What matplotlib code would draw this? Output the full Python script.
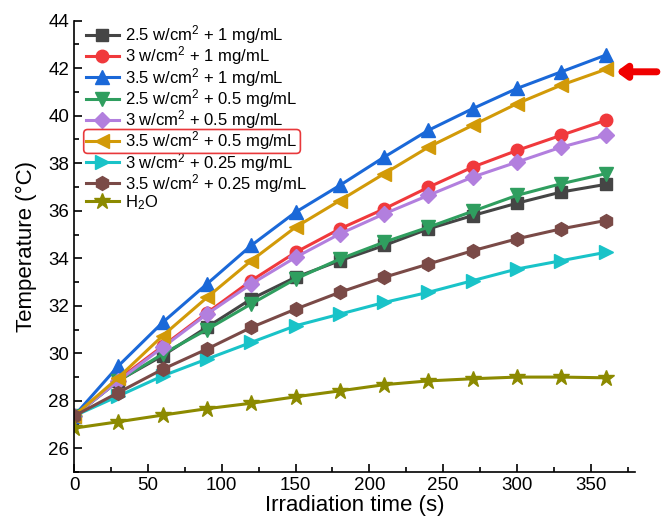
import numpy as np
import matplotlib
matplotlib.use('Agg')
import matplotlib.pyplot as plt
from matplotlib.patches import FancyBboxPatch

# ── Data ─────────────────────────────────────────────────────
time_s = [0, 30, 60, 90, 120, 150, 180, 210, 240, 270, 300, 330, 360]

t_25_1 = [27.36, 28.85, 29.9, 31.1, 32.29, 33.2, 33.9, 34.54, 35.24, 35.8, 36.32, 36.79, 37.11]
t_3_1 = [27.36, 28.9, 30.3, 31.7, 33.06, 34.25, 35.24, 36.08, 36.99, 37.84, 38.54, 39.18, 39.81]
t_35_1 = [27.36, 29.47, 31.3, 32.92, 34.54, 35.94, 37.07, 38.26, 39.39, 40.3, 41.15, 41.85, 42.55]
t_25_05 = [27.36, 28.84, 29.97, 31.0, 32.08, 33.13, 33.97, 34.68, 35.31, 35.98, 36.65, 37.14, 37.56]
t_3_05 = [27.36, 28.84, 30.25, 31.65, 32.92, 34.04, 35.03, 35.87, 36.65, 37.42, 38.05, 38.68, 39.18]
t_35_05 = [27.36, 28.98, 30.74, 32.35, 33.9, 35.31, 36.43, 37.56, 38.68, 39.6, 40.51, 41.29, 41.95]
t_3_025 = [27.36, 28.2, 29.05, 29.76, 30.46, 31.16, 31.65, 32.14, 32.57, 33.06, 33.55, 33.9, 34.25]
t_35_025 = [27.36, 28.35, 29.33, 30.18, 31.09, 31.86, 32.57, 33.2, 33.76, 34.32, 34.82, 35.24, 35.59]
t_h2o = [26.85, 27.12, 27.4, 27.67, 27.9, 28.17, 28.42, 28.68, 28.84, 28.93, 29.0, 29.0, 28.97]

labels = [r'2.5 w/cm$^2$ + 1 mg/mL', r'3 w/cm$^2$ + 1 mg/mL', r'3.5 w/cm$^2$ + 1 mg/mL',
          r'2.5 w/cm$^2$ + 0.5 mg/mL', r'3 w/cm$^2$ + 0.5 mg/mL', r'3.5 w/cm$^2$ + 0.5 mg/mL',
          r'3 w/cm$^2$ + 0.25 mg/mL', r'3.5 w/cm$^2$ + 0.25 mg/mL', r'H$_2$O']
series = [t_25_1, t_3_1, t_35_1, t_25_05, t_3_05, t_35_05, t_3_025, t_35_025, t_h2o]

# ── Style ────────────────────────────────────────────────────
colors = ['#454545', '#f0393c', '#1a68d8', '#2f9e5f', '#b27fde', '#d29a08', '#19c3c8', '#7a4a47', '#8c8a00']
markers = ['s', 'o', '^', 'v', 'D', '<', '>', 'h', '*']
msizes = [8, 9, 9.5, 9.5, 8, 9.5, 9.5, 10, 12]

plt.rcParams.update({'font.family': ['Liberation Sans', 'DejaVu Sans'], 'font.size': 10,
                     'mathtext.fontset': 'custom', 'mathtext.rm': 'Liberation Sans',
                     'mathtext.it': 'Liberation Sans'})

fig = plt.figure(figsize=(6.61, 5.24), dpi=100)
ax = fig.add_axes([0.112, 0.099, 0.849, 0.8615])

for y, lab, c, m, ms in zip(series, labels, colors, markers, msizes):
    ax.plot(time_s, y, color=c, lw=2.2, marker=m, ms=ms, mec=c, label=lab)

ax.set_xlim(0, 380); ax.set_ylim(25, 44)
ax.set_xticks(np.arange(0, 351, 50)); ax.set_xticks(np.arange(25, 380, 50), minor=True)
ax.set_yticks(np.arange(26, 45, 2)); ax.set_yticks(np.arange(25, 44, 2), minor=True)
ax.tick_params(direction='in', which='both', labelsize=13.5, width=1.2)
ax.tick_params(which='major', length=6); ax.tick_params(which='minor', length=3.5)
for s in ['top', 'right']:
    ax.spines[s].set_visible(False)
for s in ['left', 'bottom']:
    ax.spines[s].set_linewidth(1.2)

ax.set_xlabel('Irradiation time (s)', fontsize=16, labelpad=1)
ax.set_ylabel('Temperature (°C)', fontsize=16, labelpad=8)

fs = 12
hlen, hpad = 2.0, 0.35
leg = ax.legend(loc='upper left', bbox_to_anchor=(0.0, 1.02), frameon=False, fontsize=fs,
                handlelength=hlen, handletextpad=hpad, labelspacing=-0.1, borderaxespad=0.3)

# red box around highlighted legend entry
fig.canvas.draw()
bb_t = leg.get_texts()[5].get_window_extent()
x0 = bb_t.x0 - (hlen + hpad) * fs * 100 / 72 - 2
rect = FancyBboxPatch((x0, bb_t.y0 - 1), bb_t.x1 - x0 + 3, bb_t.height + 1,
                      boxstyle='round,pad=0,rounding_size=4', transform=None,
                      fill=False, ec='#e8383b', lw=1.2, figure=fig)
fig.patches.append(rect)

# red arrow pointing at the highlighted curve
ax.annotate('', xy=(0.928, 0.863), xytext=(0.998, 0.863), xycoords='figure fraction',
            arrowprops=dict(arrowstyle='-|>,head_length=0.55,head_width=0.4', color='#f00000', lw=5))

plt.savefig('out.png', dpi=100, facecolor='white')
